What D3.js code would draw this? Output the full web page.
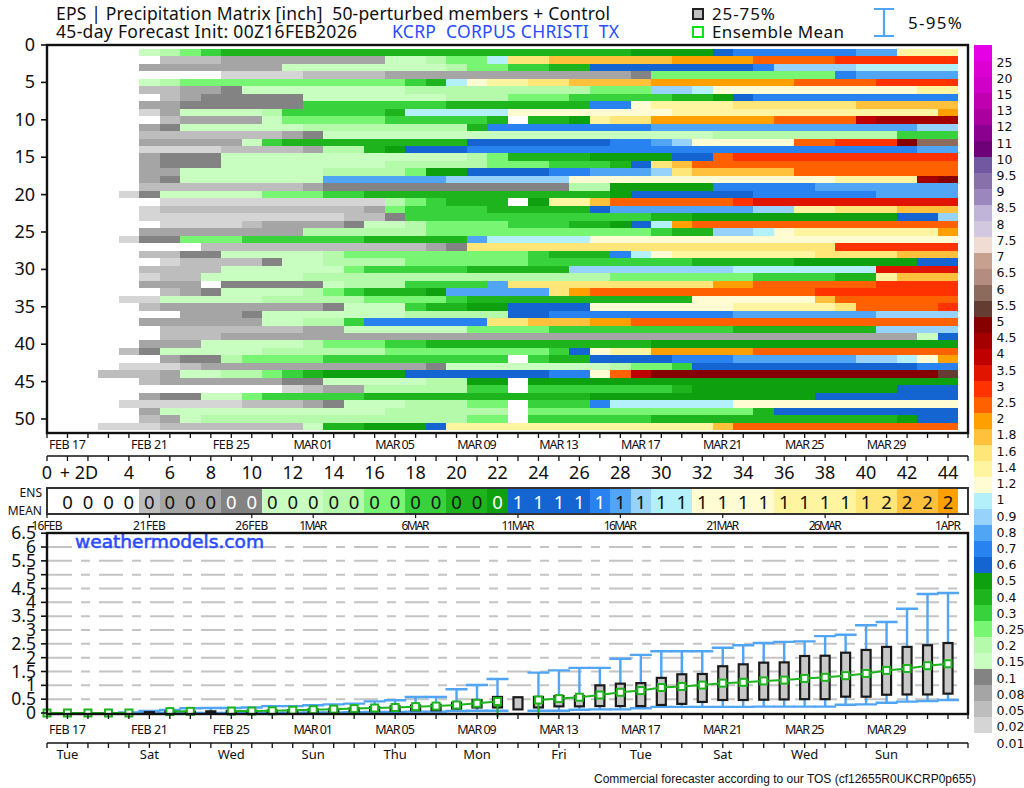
<!DOCTYPE html>
<html><head><meta charset="utf-8">
<script src="https://cdnjs.cloudflare.com/ajax/libs/d3/7.8.5/d3.min.js"></script>
<style>
html,body{margin:0;padding:0;background:#fff}
svg{display:block}
text{font-family:"Noto Sans",sans-serif;fill:#111}
</style></head><body>
<svg id="c" width="1024" height="788"></svg>
<script>
// colour bins: lower bound in inches, and colour of that bin
const binEdges=[0.01,0.02,0.05,0.08,0.1,0.15,0.2,0.25,0.3,0.4,0.5,0.6,0.7,0.8,0.9,1,1.2,1.4,1.6,1.8,2,2.5,3,3.5,4,4.5,5,5.5,6,6.5,7,7.5,8,8.5,9,9.5,10,11,12,13,15,20,25];
const binColors=["#ffffff","#d5d5d5","#bdbdbd","#a5a5a5","#838383","#c8ffc0","#b4faaa","#78f573","#37d23c","#1eb41e","#0fa00f","#1464d2","#2882f0","#50a5f5","#96d2fa","#b4f0fa","#fffbd2","#fff5a0","#ffe678","#ffc03c","#ffa000","#ff6000","#ff3200","#e11400","#c00000","#a50000","#870000","#643c32","#8c6a5c","#b48c80","#c8a090","#f0dcd2","#d2c8e0","#c0b4d8","#9b87be","#8870aa","#7258a0","#6e0078","#8c0090","#aa00a0","#c000b0","#d000c8","#dc00d2","#e600e6"];
const colorbarLabels=["25","20","15","13","12","11","10","9.5","9","8.5","8","7.5","7","6.5","6","5.5","5","4.5","4","3.5","3","2.5","2","1.8","1.6","1.4","1.2","1","0.9","0.8","0.7","0.6","0.5","0.4","0.3","0.25","0.2","0.15","0.1","0.08","0.05","0.02","0.01"];

// each member: runs of [first forecast day, bin number] (bin 0 is below 0.01)
const memberRuns=[
[[5,5],[6,6],[7,7],[8,8],[9,9],[29,10],[33,11],[34,12],[40,13],[42,17]],
[[6,2],[9,3],[17,5],[19,6],[20,7],[22,15],[23,18],[25,19],[31,20],[35,21],[39,22]],
[[5,3],[12,5],[20,6],[21,7],[23,8],[25,9],[27,11],[35,12],[36,14],[40,15]],
[[9,1],[13,2],[17,3],[29,4],[30,7],[39,12],[40,13]],
[[5,5],[6,6],[7,7],[18,8],[19,9],[20,15],[21,16],[22,17],[24,18],[26,19],[30,20],[37,21],[41,22]],
[[5,2],[7,3],[9,4],[10,5],[18,6],[27,7],[30,14],[32,15],[33,16],[43,17]],
[[6,2],[7,3],[8,4],[13,5],[20,6],[23,7],[26,8],[31,9],[33,10],[34,11],[35,12]],
[[5,3],[7,4],[13,8],[20,9],[27,12],[29,16],[30,17],[34,18],[40,19]],
[[5,1],[6,3],[7,5],[11,6],[12,8],[17,9],[18,15],[23,16],[31,17],[44,20]],
[[6,2],[7,3],[11,5],[12,7],[17,8],[22,9],[23,0],[24,9],[26,10],[27,17],[28,18],[30,20],[36,21],[40,24],[41,25]],
[[5,3],[6,4],[7,5],[13,6],[21,9],[22,12],[30,13],[43,14]],
[[5,2],[12,3],[13,4],[14,5],[33,6],[42,8]],
[[5,3],[10,5],[11,8],[12,9],[21,11],[28,12],[30,13],[31,14],[32,16],[37,21],[39,22],[42,26],[43,28]],
[[5,1],[9,2],[13,3],[14,6],[16,9],[17,10],[18,11],[21,12],[43,13]],
[[5,3],[6,4],[9,5],[21,6],[22,7],[23,9],[27,10],[31,11],[33,21],[34,22]],
[[5,3],[6,4],[9,5],[17,6],[22,7],[25,8],[28,9],[29,11],[30,18],[31,19],[32,21]],
[[5,3],[7,5],[14,6],[18,7],[19,10],[21,11],[25,12],[27,13],[30,14],[31,18],[32,19],[37,21]],
[[5,3],[6,4],[7,5],[14,13],[20,14],[26,16],[39,17],[43,25],[44,26]],
[[5,2],[13,3],[14,4],[26,6],[28,10],[33,12],[38,13]],
[[4,1],[5,4],[6,5],[11,7],[14,8],[16,9],[28,10],[29,11],[35,12],[41,13]],
[[6,1],[17,6],[18,7],[19,8],[20,9],[23,0],[24,10],[25,17],[27,19],[28,21],[34,22],[35,23]],
[[5,1],[6,2],[16,3],[17,7],[18,8],[22,9],[27,11],[28,13],[35,14],[37,17],[39,18],[42,19]],
[[5,1],[15,2],[17,4],[18,8],[30,9],[32,10],[42,11],[44,14]],
[[6,1],[10,2],[11,3],[15,4],[16,5],[18,6],[19,7],[23,8],[26,9],[28,10],[29,11],[30,15],[31,20],[32,21]],
[[5,3],[13,6],[19,7],[30,8],[31,9],[33,14],[35,15],[36,16],[37,17],[44,20]],
[[4,1],[5,4],[7,7],[10,8],[16,9],[21,13],[22,15],[27,16]],
[[8,2],[19,3],[20,4],[21,18],[39,22]],
[[5,2],[7,4],[9,5],[14,6],[15,7],[24,8],[25,9],[28,12],[29,15],[30,16],[31,17],[38,18],[42,19]],
[[6,1],[7,2],[11,4],[12,5],[14,6],[18,7],[24,8],[32,9],[37,10],[43,11]],
[[5,2],[9,5],[15,7],[16,8],[21,9],[26,14],[34,15],[41,23]],
[[5,1],[6,2],[8,5],[13,6],[28,7],[35,8],[39,9],[41,17],[42,19]],
[[5,3],[8,0],[9,4],[14,5],[15,6],[18,8],[22,13],[23,18],[33,20],[35,21],[41,22]],
[[6,2],[7,3],[8,4],[9,5],[13,6],[14,7],[15,8],[16,9],[19,10],[20,13],[25,18],[26,20],[27,21],[38,22]],
[[4,1],[6,5],[11,6],[16,7],[20,8],[21,9],[32,16],[38,19],[39,21]],
[[5,2],[6,3],[14,4],[15,5],[18,8],[19,9],[21,10],[23,11],[27,16],[34,17],[39,18],[40,21],[44,22]],
[[7,3],[10,4],[11,5],[18,6],[23,11],[25,12],[34,13],[41,14]],
[[5,3],[11,5],[13,6],[15,8],[16,12],[22,18],[24,19],[27,20],[29,21]],
[[6,2],[13,3],[15,5],[21,7],[25,8],[34,9],[41,14]],
[[6,2],[9,3],[43,5],[44,11]],
[[5,3],[8,5],[13,6],[14,7],[17,8],[19,9],[30,10]],
[[4,2],[5,4],[6,5],[11,6],[17,7],[25,8],[26,11],[27,16],[28,17],[30,20],[35,21]],
[[6,3],[7,4],[9,6],[10,7],[14,8],[23,0],[24,8],[25,9],[27,11],[31,12],[34,13],[40,14],[42,15],[43,16],[44,20]],
[[4,1],[7,2],[8,3],[19,4],[20,5],[28,6],[29,7],[31,8],[32,11],[43,12]],
[[3,2],[6,3],[7,5],[9,6],[11,7],[12,8],[13,9],[14,10],[18,11],[25,12],[27,16],[28,21],[29,24],[30,26],[44,27]],
[[5,2],[6,3],[12,4],[14,5],[19,6],[21,10],[23,0],[24,10]],
[[12,1],[13,2],[14,3],[16,6],[21,8],[23,0],[24,8],[31,9],[32,10],[42,11]],
[[5,3],[6,4],[8,5],[10,7],[11,8],[16,9],[27,10],[38,11]],
[[4,1],[10,2],[13,3],[14,4],[15,5],[18,6],[21,7],[23,0],[24,8],[27,12],[28,15],[34,16]],
[[5,3],[6,5],[17,6],[23,0],[24,7],[35,9],[36,11]],
[[5,2],[6,3],[7,5],[8,6],[21,7],[23,0],[24,8],[30,9],[42,10],[43,11]],
[[3,1],[6,2],[13,5],[14,9],[16,10],[19,11],[20,17],[33,19],[34,21]]
];

// ensemble mean strip, days 0..44
const ensMeanBin=[0,0,0,0,0,2,3,3,3,4,4,5,5,5,6,6,7,7,8,8,9,9,10,11,11,11,11,12,13,14,15,15,16,16,16,16,17,17,17,17,18,18,19,19,20];
const ensMeanText=["","0","0","0","0","0","0","0","0","0","0","0","0","0","0","0","0","0","0","0","0","0","0","1","1","1","1","1","1","1","1","1","1","1","1","1","1","1","1","1","1","2","2","2","2"];

// box plot statistics by forecast day (null: not drawn)
const p95=[0,0,0,0,0.02,0.07,0.11,0.17,0.18,0.18,0.2,0.25,0.25,0.28,0.31,0.34,0.42,0.46,0.58,0.58,0.86,1.01,1.23,null,1.46,1.54,1.63,1.63,1.96,2.1,2.23,2.23,2.23,2.36,2.45,2.53,2.57,2.59,2.78,2.83,3.17,3.29,3.77,4.3,4.34];
const p75=[0,0,0,0,0,0.03,0.05,0.05,0.06,0.07,0.08,0.09,0.1,0.13,0.15,0.17,0.21,0.24,0.27,0.3,0.37,0.47,0.58,0.57,0.58,0.61,0.61,1.0,1.06,1.08,1.27,1.4,1.41,1.69,1.76,1.82,1.83,2.06,2.07,2.18,2.28,2.39,2.39,2.45,2.53];
const ensMean=[0,0,0,0,0,null,0.05,0.06,null,0.07,0.07,0.08,0.1,0.12,0.14,0.16,0.18,0.2,0.23,0.25,0.29,0.35,0.42,null,0.47,0.52,0.57,0.65,0.75,0.81,0.92,0.96,1.01,1.08,1.11,1.16,1.19,1.25,1.29,1.35,1.43,1.54,1.61,1.71,1.78];
const p25=[0,0,0,0,0,0,0.01,0.01,0.01,0.02,0.02,0.03,0.03,0.04,0.05,0.06,0.07,0.08,0.1,0.1,0.16,0.2,0.2,0.13,0.2,0.24,0.24,0.25,0.25,0.25,0.29,0.33,0.4,0.47,0.47,0.48,0.49,0.5,0.5,0.59,0.59,0.66,0.67,0.67,0.7];
const p5=[0,0,0,0,0,0,0,0,0,0,0,0,0.01,0.02,0.02,0.03,0.04,0.04,0.05,0.05,0.07,0.08,0.08,null,0.08,0.08,0.12,0.13,0.13,0.17,0.22,0.22,0.22,0.22,0.22,0.23,0.23,0.23,0.23,0.3,0.31,0.37,0.41,0.43,0.47];

// tick labels
const memberTicks=d3.range(0,51,5);
const dateTickDays=[1,5,9,13,17,21,25,29,33,37,41];
const dateTickLabels=["FEB 17","FEB 21","FEB 25","MAR 01","MAR 05","MAR 09","MAR 13","MAR 17","MAR 21","MAR 25","MAR 29"];
const weekdayLabels=["Tue","Sat","Wed","Sun","Thu","Mon","Fri","Tue","Sat","Wed","Sun"];
const leadDays=[0,4,6,8,10,12,14,16,18,20,22,24,26,28,30,32,34,36,38,40,42,44];
const stripDateDays=[0,5,10,13,18,23,28,33,38,44];
const stripDateLabels=["16FEB","21FEB","26FEB","1MAR","6MAR","11MAR","16MAR","21MAR","26MAR","1APR"];
const precipTicks=[0,0.5,1,1.5,2,2.5,3,3.5,4,4.5,5,5.5,6,6.5];

const svg=d3.select("#c");
const left=47,right=968;
const x=d3.scaleLinear().domain([0,44]).range([47,948]);
const yM=d3.scaleLinear().domain([0,50]).range([45,419]);
const yP=d3.scaleLinear().domain([0,6.5]).range([713,533.2]);
const color=d3.scaleThreshold().domain(binEdges).range(binColors);
const binValue=b=>b===0?0:binEdges[b-1];
const blue="#50a5f5",green="#1eb41e",ink="#111";
const txt=(g,X,Y,s,size,anchor,extra)=>{const t=g.append("text").attr("x",X).attr("y",Y).attr("font-size",size).attr("text-anchor",anchor||"start").attr("dominant-baseline","central").text(s);
  if(extra)Object.entries(extra).forEach(([k,v])=>t.attr(k,v));return t;};

// header
const h=svg.append("g");
txt(h,56,13,"EPS | Precipitation Matrix [inch]  50-perturbed members + Control",17.5,"start",{textLength:554,lengthAdjust:"spacing"}).style("white-space","pre");
txt(h,56,31,"45-day Forecast Init: 00Z16FEB2026",17.5,"start",{textLength:301,lengthAdjust:"spacing"});
txt(h,392,31,"KCRP  CORPUS CHRISTI  TX",17.5,"start",{textLength:227,lengthAdjust:"spacing"}).style("fill","#2a4cff").style("white-space","pre");
h.append("rect").attr("x",693).attr("y",9).attr("width",10).attr("height",10).attr("fill","#c0c0c0").attr("stroke","#222").attr("stroke-width",2);
txt(h,712,13,"25-75%",17,"start",{textLength:63,lengthAdjust:"spacing"});
h.append("rect").attr("x",693).attr("y",27).attr("width",10).attr("height",10).attr("fill","#fff").attr("stroke","#10e010").attr("stroke-width",2);
txt(h,712,31,"Ensemble Mean",17,"start",{textLength:132,lengthAdjust:"spacing"});
h.append("path").attr("d","M874,9H894M884,9V36M874,36H894").attr("fill","none").attr("stroke",blue).attr("stroke-width",2.2);
txt(h,908,22,"5-95%",17,"start",{textLength:54,lengthAdjust:"spacing"});

// matrix
const cells=[];
memberRuns.forEach((runs,m)=>runs.forEach((r,i)=>{const end=i+1<runs.length?runs[i+1][0]:45;
  if(r[1]>0)cells.push({m,start:r[0],end,v:binValue(r[1])});}));
svg.append("g").attr("shape-rendering","crispEdges").selectAll("rect").data(cells).join("rect")
  .attr("x",d=>x(d.start-.5)).attr("width",d=>x(d.end-.5)-x(d.start-.5))
  .attr("y",d=>yM(d.m+.5)).attr("height",d=>yM(d.m+1.5)-yM(d.m+.5))
  .attr("fill",d=>color(d.v));
const frame=(y0,y1,w)=>svg.append("rect").attr("x",left).attr("y",y0).attr("width",right-left).attr("height",y1-y0).attr("fill","none").attr("stroke",ink).attr("stroke-width",w||2.4);
frame(45,433);

// generic axes
const days=d3.range(0,46);
const dayX=d=>d===45?right:x(d);
const dayTicks=(y,len,w)=>svg.append("g").selectAll("line").data(days).join("line")
  .attr("x1",dayX).attr("x2",dayX).attr("y1",y).attr("y2",y+len).attr("stroke",ink).attr("stroke-width",w||1.3);
const hTick=(g,y)=>g.append("line").attr("x1",41).attr("x2",47).attr("y1",y).attr("y2",y).attr("stroke",ink).attr("stroke-width",1.6);

const gM=svg.append("g");
memberTicks.forEach(t=>{hTick(gM,yM(t));txt(gM,35,yM(t)-1,String(t),18,"end");});
dayTicks(433,5);
dateTickDays.forEach((d,i)=>txt(svg,x(d),444,dateTickLabels[i],12.5,"middle",{textLength:i>=3?39.5:37,lengthAdjust:"spacing"}));
svg.append("line").attr("x1",left).attr("x2",right).attr("y1",456).attr("y2",456).attr("stroke",ink).attr("stroke-width",1.6);
dayTicks(456,5);
leadDays.forEach(d=>txt(svg,x(d),472,String(d),18,"middle"));
txt(svg,79,472,"+ 2D",18,"middle").style("white-space","pre");

// ensemble mean strip
svg.append("g").attr("shape-rendering","crispEdges").selectAll("rect").data(ensMeanBin.map((b,i)=>({b,i})).filter(d=>d.b>0)).join("rect")
  .attr("x",d=>x(d.i-.5)).attr("width",d=>x(d.i+.5)-x(d.i-.5)).attr("y",488).attr("height",26)
  .attr("fill",d=>color(binValue(d.b)));
svg.append("rect").attr("x",left).attr("y",488).attr("width",right-left).attr("height",26).attr("fill","none").attr("stroke","#333").attr("stroke-width",2);
ensMeanText.forEach((s,i)=>{if(!s)return;const b=ensMeanBin[i];
  const t=txt(svg,x(i),501,s,18.5,"middle");
  if(b===4||b===10||(b>=11&&b<=12))t.style("fill","#fff");});
txt(svg,42,492,"ENS",12,"end");txt(svg,42,510,"MEAN",12,"end");
svg.append("g").selectAll("line").data(stripDateDays).join("line").attr("x1",d=>x(d)).attr("x2",d=>x(d)).attr("y1",514).attr("y2",518).attr("stroke",ink).attr("stroke-width",1.2);
stripDateDays.forEach((d,i)=>txt(svg,x(d),525,stripDateLabels[i],12,"middle",{textLength:stripDateLabels[i].length>=5?(stripDateLabels[i]==="16FEB"?31:33):(stripDateLabels[i]==="1APR"?26:28),lengthAdjust:"spacing"}));

// precipitation plot
svg.append("g").selectAll("line").data(precipTicks.filter(t=>t>0&&t<6.5)).join("line")
  .attr("x1",48).attr("x2",958).attr("y1",d=>yP(d)).attr("y2",d=>yP(d))
  .attr("stroke","#c4c4c4").attr("stroke-width",2).attr("stroke-dasharray","24 9 9 9");
txt(svg,75,541.5,"weathermodels.com",18.5,"start",{textLength:189,lengthAdjust:"spacingAndGlyphs","stroke":"#2a4cff","stroke-width":0.55}).style("fill","#2a4cff").style("font-family","'DejaVu Sans'");

const stats=days.slice(0,45).map(d=>({d,p95:p95[d],p75:p75[d],m:ensMean[d],p25:p25[d],p5:p5[d]}));
const whisk=svg.append("g").attr("stroke",blue).attr("stroke-width",2.4).attr("fill","none");
whisk.selectAll("path").data(stats.filter(s=>s.p95!==null&&s.d>=4)).join("path")
  .attr("d",s=>{const X=x(s.d);return `M${X-11},${yP(s.p95)}H${X+11}M${X},${yP(s.p95)}V${yP(s.p5)}M${X-11},${yP(s.p5)}H${X+11}`;});
svg.append("g").selectAll("rect").data(stats.filter(s=>s.p75>0)).join("rect")
  .attr("x",s=>x(s.d)-4.5).attr("width",9).attr("y",s=>yP(s.p75)).attr("height",s=>yP(s.p25)-yP(s.p75))
  .attr("fill","#c8c8c8").attr("stroke","#1a1a1a").attr("stroke-width",2.2);
const line=d3.line().defined(s=>s.m!==null).x(s=>x(s.d)).y(s=>yP(s.m));
svg.append("path").attr("d",line(stats)).attr("fill","none").attr("stroke",green).attr("stroke-width",2);
// mean line drops to zero either side of the missing day
[22,24].forEach(d=>svg.append("line").attr("x1",x(d)).attr("x2",x(d)).attr("y1",yP(ensMean[d])).attr("y2",yP(0)+4).attr("stroke",green).attr("stroke-width",2));
svg.append("g").selectAll("rect").data(stats.filter(s=>s.m!==null)).join("rect")
  .attr("x",s=>x(s.d)-3.5).attr("width",7).attr("y",s=>yP(s.m)-3.5).attr("height",7)
  .attr("fill","#fff").attr("stroke",green).attr("stroke-width",2);
frame(533,714);
const gP=svg.append("g");
precipTicks.forEach(t=>{hTick(gP,yP(t));txt(gP,36,yP(t)-1,String(t),17.5,"end");});
dayTicks(714,5);
dateTickDays.forEach((d,i)=>txt(svg,x(d),729,dateTickLabels[i],12.5,"middle",{textLength:i>=3?39.5:37,lengthAdjust:"spacing"}));
svg.append("line").attr("x1",left).attr("x2",right).attr("y1",743).attr("y2",743).attr("stroke",ink).attr("stroke-width",1.6);
dayTicks(743,5);
dateTickDays.forEach((d,i)=>txt(svg,x(d),754,weekdayLabels[i],13,"middle"));
txt(svg,976,779,"Commercial forecaster according to our TOS (cf12655R0UKCRP0p655)",12,"end",{textLength:382,lengthAdjust:"spacing"}).style("font-family","'Liberation Sans'");

// colour bar
const cbY=d3.scaleLinear().domain([0,43]).range([45,733]);
svg.append("g").attr("shape-rendering","crispEdges").selectAll("rect").data(binEdges.slice().reverse()).join("rect")
  .attr("x",974).attr("width",18).attr("y",(d,i)=>cbY(i)).attr("height",(d,i)=>cbY(i+1)-cbY(i)).attr("fill",d=>color(d));
const cbL=d3.scaleLinear().domain([0,42]).range([62,743]);
colorbarLabels.forEach((s,i)=>txt(svg,996.5,cbL(i),s,12.5,"start").style("font-family","'DejaVu Sans'"));
</script>
</body></html>
